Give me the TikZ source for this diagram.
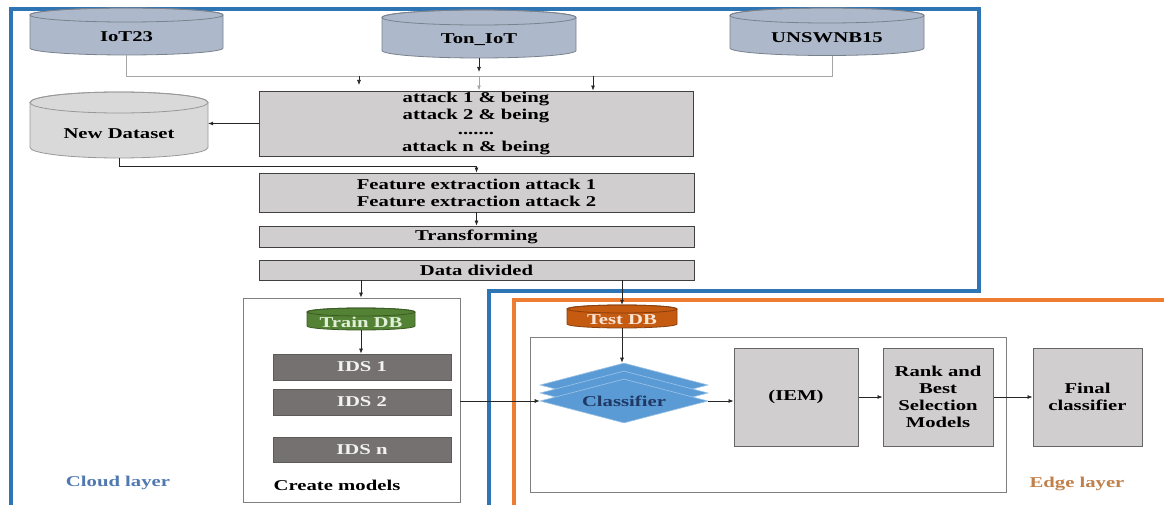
\documentclass[tikz,border=0pt]{standalone}
\usepackage{fontspec}
\setmainfont{Liberation Serif}[FakeStretch=1.38]
\usetikzlibrary{arrows.meta,shapes.geometric}

\definecolor{cloudblue}{HTML}{2E75B6}
\definecolor{edgeorange}{HTML}{ED7D31}
\definecolor{cloudtxt}{HTML}{4F79B0}
\definecolor{edgetxt}{HTML}{C0804A}
\definecolor{dbblue}{HTML}{ADB9CA}
\definecolor{dsgray}{HTML}{D9D9D9}
\definecolor{boxfill}{HTML}{D0CECE}
\definecolor{boxline}{HTML}{404040}
\definecolor{idsfill}{HTML}{767171}
\definecolor{idstext}{HTML}{F2F2F2}
\definecolor{traingreen}{HTML}{548235}
\definecolor{traintext}{HTML}{E2F0D9}
\definecolor{testorange}{HTML}{C55A11}
\definecolor{testtext}{HTML}{FBE5D6}
\definecolor{clsfill}{HTML}{5B9BD5}
\definecolor{clsedge}{HTML}{9DC3E6}
\definecolor{clstext}{HTML}{1F3864}
\definecolor{groupline}{HTML}{7F7F7F}
\definecolor{busline}{HTML}{A6A6A6}
\definecolor{linkline}{HTML}{262626}

% database cylinder: name, centre x, top-ellipse y, bottom-ellipse y,
% half width, ellipse y radius, fill, text colour, text
\newcommand\dbcyl[9]{%
  \filldraw[fill=#7, draw=#7!70!black, line width=0.8pt]
    ({#2-#5},#3) -- ({#2-#5},#4)
    arc[start angle=180, end angle=360, x radius=#5, y radius=#6]
    -- ({#2+#5},#3)
    arc[start angle=0, end angle=180, x radius=#5, y radius=#6] -- cycle;
  \draw[#7!70!black, line width=0.8pt] (#2,#3) ellipse[x radius=#5, y radius=#6];
  \node[inner sep=0pt, minimum width={2*#5}, minimum height={#3-#4}] (#1) at (#2,{(#3+#4)/2}) {};
  \node[text=#8, inner sep=0pt] (#1-t) at (#2,{(#3+#4)/2-0.8*#6}) {#9};
}

\begin{document}
\begin{tikzpicture}[x=1pt, y=1pt,
  font=\fontsize{15}{17}\selectfont\bfseries,
  procbox/.style={draw=boxline, fill=boxfill, line width=0.9pt, inner sep=0pt, align=center},
  idsbox/.style={draw=idsfill!80!black, fill=idsfill, text=idstext, line width=0.8pt,
                 inner sep=0pt, minimum width=178, minimum height=26},
  groupbox/.style={draw=groupline, fill=white, line width=0.8pt, inner sep=0pt},
  modelbox/.style={draw=boxline!80, fill=boxfill, line width=1pt, inner sep=0pt,
                   minimum height=98, align=center},
  clsshape/.style={diamond, aspect=3.8, fill=clsfill, draw=clsedge, line width=0.6pt,
                   minimum width=168, minimum height=44, inner sep=0pt},
  link/.style={draw=linkline, line width=0.7pt, -{Latex[length=5pt,width=4pt]}},
  bus/.style={draw=busline, line width=0.9pt},
  busarrow/.style={draw=busline, line width=0.9pt, -{Latex[length=5pt,width=4pt]}},
]
\useasboundingbox (0,0) rectangle (1164,504);

% layer frames
\draw[cloudblue, line width=4pt]
  (11,-8) -- (11,495) -- (979,495) -- (979,213) -- (489,213) -- (489,-8);
\draw[edgeorange, line width=3.5pt] (514,-8) -- (514,204) -- (1172,204);

% grouping boxes
\node[groupbox, minimum width=217, minimum height=204] (create) at (351.5,104) {};
\node[groupbox, minimum width=476, minimum height=155] (inner) at (768,89.5) {};

% data sources
\dbcyl{iot}{126.5}{489}{456}{96.5}{7}{dbblue}{black}{IoT23}
\dbcyl{ton}{479}{486.5}{453.5}{97}{7.5}{dbblue}{black}{Ton\_IoT}
\dbcyl{unsw}{827}{488.5}{456}{97}{7.5}{dbblue}{black}{UNSWNB15}
\dbcyl{newds}{119}{401.5}{356.5}{89}{10.5}{dsgray}{black}{New Dataset}
\dbcyl{train}{361}{192}{178}{54}{4}{traingreen}{traintext}{Train DB}
\dbcyl{test}{622}{195}{180}{55}{4}{testorange}{testtext}{Test DB}

% preprocessing chain
\node[procbox, minimum width=434, minimum height=65] (attack) at (476,380.5)
  {attack 1 \& being\\attack 2 \& being\\[-2pt].......\\attack n \& being};
\node[procbox, minimum width=435, minimum height=39] (feature) at (476.5,311.5)
  {Feature extraction attack 1\\Feature extraction attack 2};
\node[procbox, minimum width=435, minimum height=21] (transf) at (476.5,267.5) {Transforming};
\node[procbox, minimum width=435, minimum height=20] (divided) at (476.5,234) {Data divided};

% models
\node[idsbox] (ids1) at (362,137) {IDS 1};
\node[idsbox] (ids2) at (362,102) {IDS 2};
\node[idsbox, minimum height=25] (idsn) at (362,54.5) {IDS n};

% edge side
\node[clsshape] (clsb) at (624,119) {};
\node[clsshape] (clsm) at (624,111) {};
\node[clsshape, text=clstext] (cls) at (624,103) {Classifier};
\node[modelbox, minimum width=124] (iem) at (796,107) {(IEM)};
\node[modelbox, minimum width=110] (rank) at (938,107) {Rank and\\Best\\Selection\\Models};
\node[modelbox, minimum width=109] (final) at (1087.5,107) {Final\\classifier};

% labels
\node (cloudlbl) at (118,21) [text=cloudtxt] {Cloud layer};
\node (createlbl) at (337,19) {Create models};
\node (edgelbl) at (1077,20) [text=edgetxt] {Edge layer};

% collecting bus of the data sources
\coordinate (busL) at (126.5,428);
\coordinate (busR) at (832,428);
\coordinate (busA) at (359,428);
\coordinate (tipA) at (359,419);
\coordinate (busM) at (479,428);
\coordinate (tonTip) at (479,432);
\coordinate (busB) at (593,428);
\draw[bus] ([yshift=-7pt]iot.south) -- (busL) -- (busR) -- ([xshift=5pt,yshift=-7.5pt]unsw.south);
\draw[link] ([yshift=-7.5pt]ton.south) -- (tonTip);
\draw[busarrow] (busM) -- (busM |- attack.north);
\draw[link] (busA) -- (tipA);
\draw[link] (busB) -- (busB |- attack.north);

% flow
\coordinate (nd1) at (119,338);
\draw[link] (attack.west) -- (attack.west -| newds.east);
\draw[link] ([yshift=-10.5pt]newds.south) -- (nd1) -| (feature.north);
\draw[link] (feature.south) -- (transf.north);
\draw[link] (divided.south -| train) -- (create.north -| train);
\draw[link] (divided.south -| test) -- ([yshift=4pt]test.north);
\draw[link] ([yshift=-4pt]train.south) -- (ids1.north -| train);
\draw[link] (create.east |- cls.west) -- (cls.west);
\draw[link] ([yshift=-4pt]test.south) -- (clsb.north -| test);
\draw[link] (cls.east) -- (cls.east -| iem.west);
\draw[link] (iem.east) -- (rank.west);
\draw[link] (rank.east) -- (final.west);
\end{tikzpicture}
\end{document}
